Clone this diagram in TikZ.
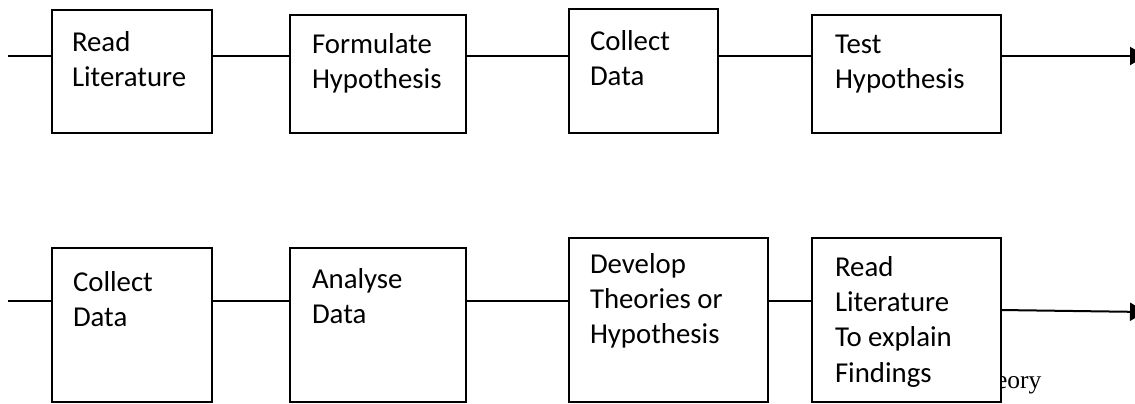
\documentclass[tikz,border=0pt]{standalone}
\usepackage{fontspec}
\setmainfont{Carlito}
\newfontfamily\serifnote{Liberation Serif}
\usetikzlibrary{arrows.meta}

\begin{document}
\begin{tikzpicture}[x=0.5pt,y=-0.5pt,
    every node/.style={inner sep=0pt,outer sep=0pt},
    stage/.style={draw,fill=white,line width=1pt,rectangle},
    caption/.style={anchor=north west,align=left,font=\fontsize{14.4}{17.6}\selectfont},
    link/.style={line width=1pt},
    goon/.style={line width=1pt,-{Triangle[length=8pt,width=9pt]}}]
\useasboundingbox (0,0) rectangle (1135,403);
% rows the connectors run along
\coordinate (rowA) at (0,56);
\coordinate (rowB) at (0,301);
\coordinate (rowC) at (0,310);
\coordinate (startA) at (8,56);
\coordinate (endA) at (1146,56);
\coordinate (startB) at (8,301);
\coordinate (endB) at (1146,312);

% first row
\node[stage,minimum width=80pt,minimum height=61.5pt] (read) at (132,71.5) {};
\node[stage,minimum width=88pt,minimum height=59pt] (formulate) at (378,74) {};
\node[stage,minimum width=74.5pt,minimum height=62pt] (collect) at (643.5,71) {};
\node[stage,minimum width=94.5pt,minimum height=59pt] (test) at (906.5,74) {};
\node[caption] (readtxt) at (72,31.5) {Read\\Literature};
\node[caption] (formulatetxt) at (312,33.5) {Formulate\\Hypothesis};
\node[caption] (collecttxt) at (590,30.5) {Collect\\Data};
\node[caption] (testtxt) at (835,35) {Test\\Hypothesis};

% second row (the note sits under the last box)
\node[anchor=base west,font=\serifnote\fontsize{12.75}{14}\selectfont] (theory) at (996,388) {eory};
\node[stage,minimum width=80pt,minimum height=77pt] (collectb) at (132,325) {};
\node[stage,minimum width=88pt,minimum height=77pt] (analyse) at (378,325) {};
\node[stage,minimum width=99.5pt,minimum height=82pt] (develop) at (668.5,320) {};
\node[stage,minimum width=94.5pt,minimum height=82pt] (explain) at (906.5,320) {};
\node[caption] (collectbtxt) at (73,271.5) {Collect\\Data};
\node[caption] (analysetxt) at (312,268.5) {Analyse\\Data};
\node[caption] (developtxt) at (590,253.5) {Develop\\Theories or\\Hypothesis};
\node[caption] (explaintxt) at (835,256.5) {Read\\Literature\\To explain\\Findings};

\draw[link] (startA) -- (read.west |- rowA);
\draw[link] (read.east |- rowA) -- (formulate.west |- rowA);
\draw[link] (formulate.east |- rowA) -- (collect.west |- rowA);
\draw[link] (collect.east |- rowA) -- (test.west |- rowA);
\draw[goon] (test.east |- rowA) -- (endA);

\draw[link] (startB) -- (collectb.west |- rowB);
\draw[link] (collectb.east |- rowB) -- (analyse.west |- rowB);
\draw[link] (analyse.east |- rowB) -- (develop.west |- rowB);
\draw[link] (develop.east |- rowB) -- (explain.west |- rowB);
\draw[goon] (explain.east |- rowC) -- (endB);
\end{tikzpicture}
\end{document}
